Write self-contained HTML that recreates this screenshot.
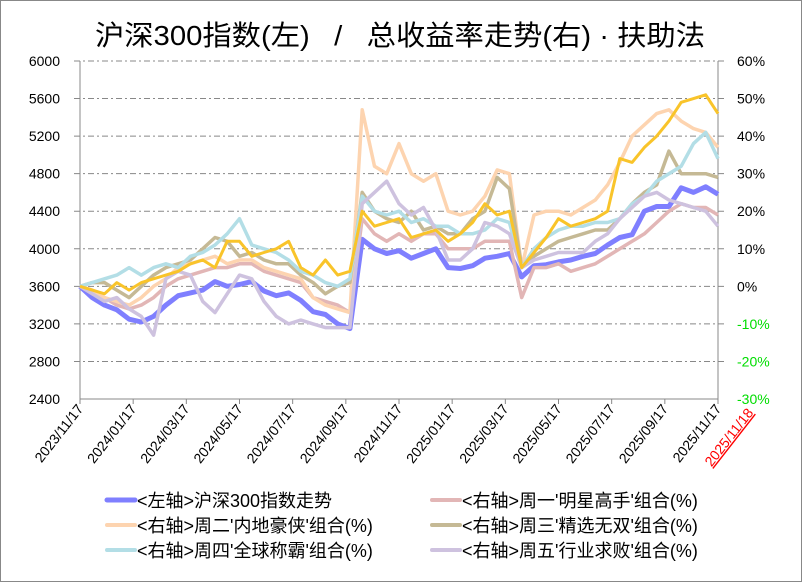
<!DOCTYPE html>
<html><head><meta charset="utf-8"><style>
body{margin:0;background:#fff}
svg{display:block;font-family:"Liberation Sans","Noto Sans CJK SC",sans-serif}
</style></head><body>
<svg id="c" width="802" height="582" viewBox="0 0 802 582" xmlns="http://www.w3.org/2000/svg">
<rect x="0.5" y="0.5" width="801" height="581" fill="#fff" stroke="#888"/>
<text x="400" y="45" text-anchor="middle" font-size="28" textLength="610" lengthAdjust="spacingAndGlyphs" fill="#000" style="white-space:pre">沪深300指数(左)   /   总收益率走势(右) · 扶助法</text>
<g id="grid"></g><g id="axes"></g><g id="series"></g><g id="legend"></g>
</svg>
<script>
const xLabels=["2023/11/17","2024/01/17","2024/03/17","2024/05/17","2024/07/17","2024/09/17","2024/11/17","2025/01/17","2025/03/17","2025/05/17","2025/07/17","2025/09/17","2025/11/17"];
const leftTicks=[2400,2800,3200,3600,4000,4400,4800,5200,5600,6000];
const rightTicks=[-30,-20,-10,0,10,20,30,40,50,60];
const indexVals=[3600,3480,3400,3350,3250,3220,3280,3400,3500,3530,3560,3650,3600,3620,3650,3550,3500,3530,3450,3330,3300,3200,3150,4100,4000,3950,3980,3900,3950,4000,3800,3790,3820,3900,3920,3950,3700,3820,3830,3860,3880,3920,3950,4040,4120,4150,4400,4450,4450,4650,4600,4660,4580];
const monVals=[0,-2,-3,-5,-6,-5,-3,0,2,3,4,5,5,6,6,4,3,2,1,-3,-4,-5,-7,18,14,12,14,12,14,14,10,10,10,12,12,12,-3,5,5,6,4,5,6,8,10,12,14,17,20,22,21,21,19];
const tueVals=[0,-1,-3,-4,-5,-3,0,2,5,6,7,8,6,7,7,5,4,3,2,-3,-5,-6,-7,47,32,30,38,30,28,30,20,19,20,24,31,30,5,19,20,20,19,21,23,27,33,40,43,46,47,44,42,41,37];
const wedVals=[0,1,1,-1,-3,0,3,5,6,7,10,13,12,8,9,7,6,6,3,1,-2,0,1,25,20,18,17,20,15,16,14,14,18,20,29,26,5,8,10,12,13,14,15,15,18,22,25,27,36,30,30,30,29];
const thuVals=[0,1,2,3,5,3,5,6,5,8,9,11,14,18,11,10,9,7,4,3,1,0,2,24,20,19,20,17,18,16,16,14,14,15,18,17,5,10,13,15,16,16,17,17,18,22,24,28,30,32,38,41,34];
const friVals=[0,-2,-4,-3,-6,-8,-13,2,4,3,-4,-7,-2,3,2,-4,-8,-10,-9,-10,-11,-11,-11,22,25,28,22,19,21,15,7,7,10,17,16,14,5,7,8,9,9,9,12,14,18,21,24,25,23,22,21,20,16];
const goldVals=[0,-1,-2,1,-1,1,2,3,4,6,7,5,12,12,8,9,10,12,5,3,7,3,4,20,16,17,18,13,14,15,12,14,17,22,19,20,5,9,13,18,16,17,18,20,34,33,37,40,44,49,50,51,46];
const names=["<左轴>沪深300指数走势","<右轴>周一'明星高手'组合(%)","<右轴>周二'内地豪侠'组合(%)","<右轴>周三'精选无双'组合(%)","<右轴>周四'全球称霸'组合(%)","<右轴>周五'行业求败'组合(%)"];

const NS="http://www.w3.org/2000/svg";
const X0=80,X1=718,YT=61,YB=399;
const n=indexVals.length;
const xAt=i=>X0+i*(X1-X0)/(n-1);
const yL=v=>YB-(v-2400)/(6000-2400)*(YB-YT);
const yR=p=>YB-(p+30)/90*(YB-YT);
function mk(tag,attrs,parent){const e=document.createElementNS(NS,tag);for(const k in attrs)e.setAttribute(k,attrs[k]);parent.appendChild(e);return e;}
const grid=document.getElementById('grid'),axes=document.getElementById('axes'),ser=document.getElementById('series'),leg=document.getElementById('legend');
leftTicks.forEach((t,k)=>{const y=yL(t);
 if(t>2400){const g=mk('line',{x1:X0-6,x2:X1+6,y1:y,y2:y,stroke:'#888','stroke-dasharray':'6 3 2 3'},grid);
 
 }
 const tl=mk('text',{x:60,y:y+5,'text-anchor':'end','font-size':14,fill:'#000'},axes);tl.textContent=t;
 
 
});
rightTicks.forEach(t=>{const y=yR(t);
 const tr=mk('text',{x:737,y:y+5,'font-size':14,fill:t<0?'#00dd00':'#000'},axes);tr.textContent=t+'%';
 
 
});
mk('line',{x1:X0,x2:X1,y1:YB,y2:YB,stroke:'#888'},axes);
mk('line',{x1:X0,x2:X0,y1:YT,y2:YB,stroke:'#888'},axes);
mk('line',{x1:X1,x2:X1,y1:YT,y2:YB,stroke:'#888'},axes);
xLabels.forEach((l,k)=>{const x=X0+k*(X1-X0)/(xLabels.length-1);
 mk('line',{x1:x,x2:x,y1:YB,y2:YB+5,stroke:'#888'},axes);
 const t=mk('text',{x:x+4,y:YB+10,'text-anchor':'end','font-size':14,fill:'#000',transform:`rotate(-52 ${x+4} ${YB+10})`},axes);t.textContent=l;
 
 
});
const rl=mk('text',{x:X1+36,y:YB+14,'text-anchor':'end','font-size':14,fill:'#f00','text-decoration':'underline',transform:`rotate(-52 ${X1+36} ${YB+14})`},axes);rl.textContent='2025/11/18';



const defs=[[indexVals,yL,'#7f7fff',5,'series-csi300'],[monVals,yR,'#e2b6b6',3.5,'series-monday'],[tueVals,yR,'#fdd4b0',3.5,'series-tuesday'],[wedVals,yR,'#c5b995',3.5,'series-wednesday'],[thuVals,yR,'#b3dee6',3.5,'series-thursday'],[friVals,yR,'#cec2df',3.5,'series-friday'],[goldVals,yR,'#f9c42a',3,'series-gold']];
defs.forEach(([vals,fy,col,w,nm])=>{
 const pts=vals.map((v,i)=>xAt(i).toFixed(1)+','+fy(v).toFixed(1)).join(' ');
 const p=mk('polyline',{points:pts,fill:'none',stroke:col,'stroke-width':w,'stroke-linejoin':'round'},ser);
 
 
});
names.forEach((nmT,k)=>{const col=k%2,row=Math.floor(k/2);
 const lx=col?432:107,ly=500+row*25;
 const g=mk('g',{},leg);
 
 
 mk('line',{x1:lx,x2:lx+28,y1:ly,y2:ly,stroke:defs[k][2],'stroke-width':k?4:5,'stroke-linecap':'round'},g);
 const t=mk('text',{x:lx+30,y:ly+7,'font-size':18,fill:'#000'},g);t.textContent=nmT;
});
</script>
</body></html>
